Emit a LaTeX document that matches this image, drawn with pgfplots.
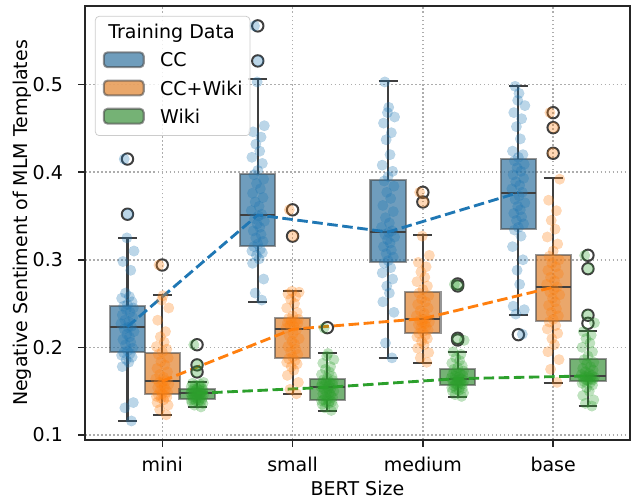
\documentclass[border=0pt]{standalone}
\usepackage{fontspec}
\setmainfont{DejaVu Sans}
\usepackage{pgfplots}
\usepackage{pgfplotstable}
\pgfplotsset{compat=1.18}

\definecolor{tb}{RGB}{31,119,180}
\definecolor{to}{RGB}{255,127,14}
\definecolor{tg}{RGB}{44,160,44}
\definecolor{fb}{RGB}{50,116,161}
\definecolor{fo}{RGB}{225,129,44}
\definecolor{fg}{RGB}{58,146,58}
\definecolor{dk}{RGB}{63,63,63}

\pgfplotstableread[row sep=\\]{
j cc ccw wiki\\
0.030 0.116 0.123 0.132\\
-0.020 0.131 0.129 0.134\\
0.045 0.137 0.134 0.136\\
-0.040 0.178 0.137 0.137\\
0.010 0.183 0.140 0.138\\
-0.010 0.186 0.142 0.139\\
0.035 0.189 0.143 0.139\\
-0.045 0.191 0.144 0.140\\
0.020 0.193 0.145 0.140\\
-0.030 0.194 0.146 0.141\\
0.000 0.196 0.147 0.142\\
0.040 0.199 0.149 0.142\\
-0.015 0.203 0.151 0.143\\
0.025 0.206 0.152 0.143\\
-0.035 0.209 0.154 0.144\\
0.015 0.212 0.155 0.145\\
-0.005 0.215 0.157 0.145\\
0.050 0.218 0.158 0.146\\
-0.025 0.221 0.160 0.147\\
0.005 0.223 0.161 0.147\\
0.030 0.224 0.162 0.148\\
-0.050 0.227 0.164 0.148\\
0.010 0.229 0.166 0.149\\
-0.020 0.231 0.169 0.149\\
0.040 0.234 0.172 0.150\\
-0.040 0.237 0.176 0.150\\
0.020 0.240 0.180 0.151\\
-0.010 0.243 0.184 0.151\\
0.045 0.245 0.188 0.152\\
-0.030 0.247 0.192 0.152\\
0.000 0.249 0.195 0.153\\
0.035 0.252 0.198 0.154\\
-0.045 0.256 0.201 0.155\\
0.015 0.258 0.206 0.156\\
-0.015 0.262 0.212 0.157\\
0.025 0.288 0.218 0.158\\
-0.035 0.298 0.231 0.159\\
0.050 0.310 0.245 0.160\\
-0.005 0.325 0.254 0.172\\
0.005 0.352 0.259 0.180\\
-0.025 0.415 0.294 0.203\\
}\tmini

\pgfplotstableread[row sep=\\]{
j cc ccw wiki\\
0.030 0.254 0.147 0.128\\
-0.020 0.262 0.152 0.131\\
0.045 0.278 0.160 0.133\\
-0.040 0.296 0.168 0.135\\
0.010 0.301 0.174 0.136\\
-0.010 0.305 0.178 0.137\\
0.035 0.308 0.181 0.138\\
-0.045 0.310 0.183 0.139\\
0.020 0.312 0.185 0.139\\
-0.030 0.315 0.187 0.140\\
0.000 0.318 0.189 0.141\\
0.040 0.321 0.192 0.143\\
-0.015 0.325 0.195 0.144\\
0.025 0.329 0.198 0.146\\
-0.035 0.333 0.201 0.147\\
0.015 0.337 0.204 0.148\\
-0.005 0.341 0.207 0.149\\
0.050 0.344 0.210 0.150\\
-0.025 0.347 0.213 0.152\\
0.005 0.350 0.216 0.153\\
0.030 0.352 0.220 0.154\\
-0.050 0.356 0.222 0.155\\
0.010 0.361 0.224 0.156\\
-0.020 0.366 0.225 0.157\\
0.040 0.371 0.227 0.158\\
-0.040 0.376 0.228 0.159\\
0.020 0.381 0.229 0.160\\
-0.010 0.387 0.230 0.161\\
0.045 0.392 0.232 0.162\\
-0.030 0.397 0.233 0.163\\
0.000 0.402 0.236 0.165\\
0.035 0.410 0.240 0.167\\
-0.045 0.417 0.245 0.169\\
0.015 0.424 0.250 0.172\\
-0.015 0.432 0.255 0.175\\
0.025 0.440 0.258 0.178\\
-0.035 0.446 0.261 0.182\\
0.050 0.453 0.263 0.186\\
-0.005 0.503 0.264 0.190\\
0.005 0.527 0.327 0.193\\
-0.025 0.567 0.357 0.222\\
}\tsmall

\pgfplotstableread[row sep=\\]{
j cc ccw wiki\\
0.030 0.188 0.183 0.144\\
-0.020 0.205 0.188 0.146\\
0.045 0.240 0.194 0.148\\
-0.040 0.252 0.199 0.150\\
0.010 0.262 0.203 0.151\\
-0.010 0.270 0.207 0.152\\
0.035 0.278 0.210 0.153\\
-0.045 0.285 0.212 0.154\\
0.020 0.291 0.214 0.155\\
-0.030 0.296 0.216 0.156\\
0.000 0.299 0.218 0.157\\
0.040 0.303 0.220 0.158\\
-0.015 0.307 0.222 0.158\\
0.025 0.311 0.224 0.159\\
-0.035 0.315 0.226 0.160\\
0.015 0.319 0.227 0.160\\
-0.005 0.323 0.228 0.161\\
0.050 0.326 0.229 0.162\\
-0.025 0.329 0.231 0.163\\
0.005 0.331 0.232 0.163\\
0.030 0.333 0.233 0.164\\
-0.050 0.337 0.236 0.165\\
0.010 0.342 0.239 0.166\\
-0.020 0.348 0.242 0.167\\
0.040 0.355 0.245 0.168\\
-0.040 0.362 0.249 0.169\\
0.020 0.370 0.252 0.170\\
-0.010 0.377 0.255 0.172\\
0.045 0.384 0.259 0.173\\
-0.030 0.390 0.262 0.175\\
0.000 0.395 0.266 0.177\\
0.035 0.401 0.270 0.179\\
-0.045 0.408 0.275 0.182\\
0.015 0.420 0.280 0.185\\
-0.015 0.437 0.286 0.188\\
0.025 0.445 0.292 0.192\\
-0.035 0.456 0.297 0.195\\
0.050 0.463 0.305 0.208\\
-0.005 0.468 0.327 0.210\\
0.005 0.474 0.366 0.270\\
-0.025 0.503 0.377 0.272\\
}\tmedium

\pgfplotstableread[row sep=\\]{
j cc ccw wiki\\
0.030 0.215 0.160 0.133\\
-0.020 0.238 0.175 0.136\\
0.045 0.243 0.186 0.140\\
-0.040 0.247 0.195 0.145\\
0.010 0.272 0.203 0.150\\
-0.010 0.288 0.210 0.154\\
0.035 0.300 0.216 0.157\\
-0.045 0.315 0.221 0.159\\
0.020 0.327 0.225 0.160\\
-0.030 0.334 0.229 0.161\\
0.000 0.337 0.232 0.162\\
0.040 0.341 0.236 0.163\\
-0.015 0.345 0.240 0.163\\
0.025 0.349 0.244 0.164\\
-0.035 0.353 0.248 0.165\\
0.015 0.357 0.252 0.165\\
-0.005 0.361 0.256 0.166\\
0.050 0.365 0.260 0.166\\
-0.025 0.369 0.263 0.167\\
0.005 0.373 0.266 0.167\\
0.030 0.377 0.269 0.168\\
-0.050 0.381 0.272 0.169\\
0.010 0.385 0.276 0.170\\
-0.020 0.389 0.280 0.172\\
0.040 0.393 0.284 0.174\\
-0.040 0.397 0.288 0.176\\
0.020 0.401 0.292 0.178\\
-0.010 0.405 0.296 0.181\\
0.045 0.409 0.300 0.183\\
-0.030 0.413 0.304 0.186\\
0.000 0.417 0.310 0.190\\
0.035 0.420 0.318 0.195\\
-0.045 0.424 0.326 0.200\\
0.015 0.438 0.335 0.205\\
-0.015 0.452 0.345 0.210\\
0.025 0.461 0.356 0.214\\
-0.035 0.468 0.368 0.218\\
0.050 0.476 0.392 0.228\\
-0.005 0.482 0.422 0.237\\
0.005 0.490 0.451 0.290\\
-0.025 0.498 0.468 0.305\\
}\tbase

\pgfplotsset{
  strip/.style={only marks, mark=*, mark size=2.8pt, color=#1, fill opacity=0.3, draw opacity=0.3, mark options={line width=0.01pt}},
  medline/.style={#1, line width=1.5pt, dash pattern=on 5.55pt off 2.4pt},
  wline/.style={dk, line width=1.1pt, forget plot},
}
% box: #1 position, #2 fill colour, #3 lower whisker, #4 lower quartile, #5 median, #6 upper quartile, #7 upper whisker
\newcommand{\bx}[7]{%
  \pgfmathsetmacro{\bxL}{#1-0.135}\pgfmathsetmacro{\bxR}{#1+0.135}%
  \pgfmathsetmacro{\cpL}{#1-0.0725}\pgfmathsetmacro{\cpR}{#1+0.0725}%
  \addplot[fill=#2, fill opacity=0.7, draw=dk, draw opacity=0.55, line width=1.1pt, forget plot]
    coordinates {(\bxL,#4) (\bxR,#4) (\bxR,#6) (\bxL,#6)} -- cycle;
  \addplot[wline] coordinates {(#1,#4) (#1,#3)};
  \addplot[wline] coordinates {(#1,#6) (#1,#7)};
  \addplot[wline] coordinates {(\cpL,#3) (\cpR,#3)};
  \addplot[wline] coordinates {(\cpL,#7) (\cpR,#7)};
  \addplot[wline] coordinates {(\bxL,#5) (\bxR,#5)};
}

\begin{document}
\begin{tikzpicture}
\path[use as bounding box] (-44.74pt,-31.58pt) rectangle (288.42pt,231.56pt);
\begin{axis}[
  at={(0,0)}, anchor=south west, scale only axis,
  width=286.8pt, height=228.4pt,
  xmin=-0.593, xmax=3.589, ymin=0.0943, ymax=0.5897,
  xtick={0,1,2,3}, xticklabels={mini,small,medium,base},
  ytick={0.1,0.2,0.3,0.4,0.5}, yticklabels={0.1,0.2,0.3,0.4,0.5},
  tick align=outside, tick pos=left, major tick length=3.5pt,
  every tick/.style={black!85, line width=0.8pt},
  axis line style={black!85, line width=0.8pt},
  yticklabel style={xshift=-4.6pt},
  xticklabel style={yshift=-2pt},
  grid=major, grid style={black!32, line width=0.8pt, dash pattern=on 0.8pt off 1.32pt},
  xlabel={BERT Size}, ylabel={Negative Sentiment of MLM Templates},
  xlabel style={at={(axis description cs:0.5,-0.1106)}, anchor=center},
  ylabel style={at={(axis description cs:-0.1158,0.5)}, anchor=center},
  legend style={at={(0.0183,0.977)}, anchor=north west, draw=black!20, rounded corners=2pt,
    fill=white, fill opacity=0.8, text opacity=1, inner xsep=3.9pt, inner ysep=4.3pt,
    row sep=4.5pt, column sep=0pt,
    nodes={inner sep=0pt, text height=7.4pt, text depth=2.2pt, anchor=base west}},
  legend cell align=left,
]
\addlegendimage{empty legend}
\addlegendentry{\hspace*{-19.2pt}Training Data}
\addlegendimage{legend image code/.code={\draw[fill=fb, fill opacity=0.7, draw=dk, draw opacity=0.55, line width=1.1pt] (0pt,-0.2pt) rectangle (21pt,7.6pt);}}
\addlegendentry{\hspace*{8.1pt}CC}
\addlegendimage{legend image code/.code={\draw[fill=fo, fill opacity=0.7, draw=dk, draw opacity=0.55, line width=1.1pt] (0pt,-0.2pt) rectangle (21pt,7.6pt);}}
\addlegendentry{\hspace*{8.1pt}CC+Wiki}
\addlegendimage{legend image code/.code={\draw[fill=fg, fill opacity=0.7, draw=dk, draw opacity=0.55, line width=1.1pt] (0pt,-0.2pt) rectangle (21pt,7.6pt);}}
\addlegendentry{\hspace*{8.1pt}Wiki}

% boxes
\bx{-0.267}{fb}{0.1163}{0.1944}{0.2236}{0.2473}{0.3249}
\bx{0}{fo}{0.1228}{0.1465}{0.1616}{0.1933}{0.2598}
\bx{0.267}{fg}{0.132}{0.1411}{0.1476}{0.1522}{0.1602}
\bx{0.733}{fb}{0.2522}{0.3158}{0.3511}{0.398}{0.506}
\bx{1}{fo}{0.1465}{0.1876}{0.2207}{0.2339}{0.2647}
\bx{1.267}{fg}{0.1277}{0.14}{0.1544}{0.1636}{0.1933}
\bx{1.733}{fb}{0.1876}{0.2975}{0.3317}{0.3911}{0.5041}
\bx{2}{fo}{0.1825}{0.2168}{0.2328}{0.2632}{0.328}
\bx{2.267}{fg}{0.1437}{0.1567}{0.1643}{0.1757}{0.1951}
\bx{2.733}{fb}{0.2373}{0.3355}{0.3766}{0.4147}{0.4988}
\bx{3}{fo}{0.1597}{0.2301}{0.2686}{0.3055}{0.393}
\bx{3.267}{fg}{0.1331}{0.162}{0.1674}{0.1868}{0.2187}

% outliers
\addplot[only marks, mark=o, mark size=3.0pt, mark options={draw=dk, line width=1.05pt}, forget plot] coordinates {
(-0.267,0.352) (-0.267,0.415) (0,0.294) (0.267,0.172) (0.267,0.180) (0.267,0.203)
(0.733,0.527) (0.733,0.567) (1,0.327) (1,0.357) (1.267,0.2225)
(2,0.366) (2,0.377) (2.267,0.2084) (2.267,0.2104) (2.267,0.2701) (2.267,0.2724)
(2.733,0.2145) (3,0.4216) (3,0.4508) (3,0.4679)
(3.267,0.2275) (3.267,0.2367) (3.267,0.2898) (3.267,0.3051)};

% median trend lines
\addplot[medline=tb, forget plot] coordinates {(-0.267,0.2236) (0.733,0.3511) (1.733,0.3317) (2.733,0.3766)};
\addplot[medline=to, forget plot] coordinates {(0,0.1616) (1,0.2207) (2,0.2328) (3,0.2686)};
\addplot[medline=tg, forget plot] coordinates {(0.267,0.1476) (1.267,0.1544) (2.267,0.1643) (3.267,0.1674)};

% strip points
\addplot[strip=tb, forget plot] table[x expr=\thisrow{j}-0.267, y=cc] {\tmini};
\addplot[strip=to, forget plot] table[x expr=\thisrow{j}, y=ccw] {\tmini};
\addplot[strip=tg, forget plot] table[x expr=\thisrow{j}+0.267, y=wiki] {\tmini};
\addplot[strip=tb, forget plot] table[x expr=\thisrow{j}+0.733, y=cc] {\tsmall};
\addplot[strip=to, forget plot] table[x expr=\thisrow{j}+1, y=ccw] {\tsmall};
\addplot[strip=tg, forget plot] table[x expr=\thisrow{j}+1.267, y=wiki] {\tsmall};
\addplot[strip=tb, forget plot] table[x expr=\thisrow{j}+1.733, y=cc] {\tmedium};
\addplot[strip=to, forget plot] table[x expr=\thisrow{j}+2, y=ccw] {\tmedium};
\addplot[strip=tg, forget plot] table[x expr=\thisrow{j}+2.267, y=wiki] {\tmedium};
\addplot[strip=tb, forget plot] table[x expr=\thisrow{j}+2.733, y=cc] {\tbase};
\addplot[strip=to, forget plot] table[x expr=\thisrow{j}+3, y=ccw] {\tbase};
\addplot[strip=tg, forget plot] table[x expr=\thisrow{j}+3.267, y=wiki] {\tbase};
\end{axis}
\end{tikzpicture}
\end{document}
